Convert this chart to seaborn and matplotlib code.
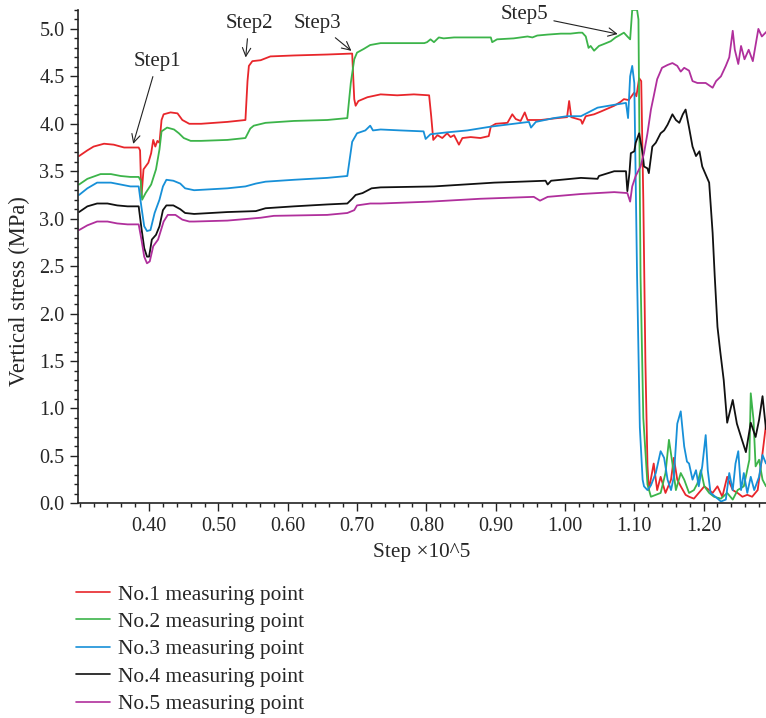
import seaborn as sns
import pandas as pd
import matplotlib.pyplot as plt
from matplotlib.ticker import MultipleLocator, FormatStrFormatter

# valores (x em Step x10^5, y em MPa)
x_p1 = [0.299, 0.311, 0.320, 0.335, 0.349, 0.364, 0.385, 0.387, 0.389, 0.392, 0.399, 0.403, 0.406, 0.409,
        0.412, 0.415, 0.418, 0.421, 0.431, 0.441, 0.448, 0.458, 0.475, 0.513, 0.539, 0.542, 0.544, 0.549,
        0.561, 0.575, 0.609, 0.657, 0.693, 0.696, 0.698, 0.702, 0.715, 0.734, 0.758, 0.782, 0.804, 0.807,
        0.810, 0.816, 0.823, 0.830, 0.835, 0.840, 0.847, 0.852, 0.864, 0.878, 0.890, 0.893, 0.900, 0.917,
        0.924, 0.929, 0.936, 0.942, 0.946, 0.953, 0.965, 0.989, 1.003, 1.006, 1.009, 1.023, 1.025, 1.030,
        1.042, 1.052, 1.071, 1.080, 1.085, 1.092, 1.100, 1.103, 1.107, 1.110, 1.113, 1.116, 1.119, 1.121,
        1.128, 1.133, 1.138, 1.145, 1.153, 1.157, 1.162, 1.167, 1.174, 1.179, 1.186, 1.193, 1.201, 1.208,
        1.213, 1.220, 1.227, 1.234, 1.242, 1.249, 1.256, 1.263, 1.270, 1.278, 1.285, 1.290]
y_p1 = [3.66, 3.72, 3.76, 3.79, 3.78, 3.75, 3.75, 3.72, 3.23, 3.52, 3.59, 3.69, 3.83, 3.76,
        3.82, 3.80, 4.04, 4.10, 4.12, 4.11, 4.04, 4.00, 4.00, 4.02, 4.04, 4.45, 4.61, 4.66,
        4.67, 4.71, 4.72, 4.73, 4.74, 4.26, 4.19, 4.24, 4.28, 4.31, 4.30, 4.31, 4.30, 4.08,
        3.83, 3.88, 3.85, 3.90, 3.86, 3.88, 3.78, 3.85, 3.86, 3.85, 3.87, 3.97, 4.00, 4.01,
        4.10, 4.05, 4.03, 4.12, 4.04, 4.04, 4.04, 4.06, 4.07, 4.24, 4.07, 4.04, 4.00, 4.08,
        4.10, 4.13, 4.19, 4.23, 4.26, 4.25, 4.33, 4.29, 4.48, 4.45, 3.20, 1.50, 0.40, 0.14,
        0.42, 0.14, 0.28, 0.11, 0.25, 0.48, 0.25, 0.18, 0.09, 0.07, 0.05, 0.11, 0.18, 0.14,
        0.11, 0.18, 0.07, 0.28, 0.14, 0.11, 0.07, 0.09, 0.07, 0.14, 0.53, 0.83]

x_p2 = [0.299, 0.311, 0.330, 0.345, 0.359, 0.373, 0.385, 0.388, 0.390, 0.395, 0.403, 0.410, 0.415, 0.418,
        0.426, 0.436, 0.443, 0.450, 0.460, 0.475, 0.513, 0.539, 0.546, 0.551, 0.568, 0.609, 0.657, 0.686,
        0.691, 0.696, 0.700, 0.710, 0.719, 0.734, 0.763, 0.797, 0.801, 0.806, 0.811, 0.818, 0.825, 0.840,
        0.869, 0.893, 0.895, 0.902, 0.926, 0.946, 0.953, 0.960, 0.975, 0.994, 1.008, 1.020, 1.025, 1.030,
        1.034, 1.037, 1.042, 1.049, 1.056, 1.066, 1.073, 1.078, 1.085, 1.090, 1.094, 1.097, 1.104, 1.106,
        1.109, 1.113, 1.119, 1.124, 1.131, 1.138, 1.145, 1.150, 1.155, 1.160, 1.167, 1.172, 1.179, 1.186,
        1.191, 1.196, 1.201, 1.208, 1.215, 1.225, 1.234, 1.242, 1.249, 1.258, 1.266, 1.268, 1.272, 1.275,
        1.280, 1.285, 1.290]
y_p2 = [3.36, 3.42, 3.47, 3.47, 3.45, 3.44, 3.44, 3.40, 3.20, 3.27, 3.36, 3.52, 3.73, 3.92,
        3.96, 3.94, 3.90, 3.85, 3.82, 3.82, 3.83, 3.85, 3.95, 3.98, 4.01, 4.03, 4.04, 4.06,
        4.43, 4.68, 4.75, 4.79, 4.83, 4.85, 4.85, 4.85, 4.86, 4.89, 4.86, 4.91, 4.90, 4.91,
        4.91, 4.91, 4.86, 4.89, 4.90, 4.92, 4.91, 4.93, 4.94, 4.95, 4.95, 4.96, 4.96, 4.92,
        4.80, 4.82, 4.77, 4.82, 4.84, 4.87, 4.91, 4.93, 4.96, 4.92, 4.89, 5.20, 5.20, 5.10,
        2.40, 0.90, 0.20, 0.07, 0.09, 0.11, 0.32, 0.67, 0.42, 0.14, 0.32, 0.25, 0.11, 0.14,
        0.21, 0.35, 0.18, 0.11, 0.07, 0.05, 0.11, 0.04, 0.14, 0.18, 0.46, 1.16, 0.88, 0.39,
        0.46, 0.25, 0.18]

x_p3 = [0.299, 0.311, 0.325, 0.345, 0.359, 0.373, 0.385, 0.389, 0.393, 0.397, 0.402, 0.408, 0.415, 0.420,
        0.425, 0.435, 0.445, 0.452, 0.465, 0.513, 0.539, 0.554, 0.568, 0.609, 0.657, 0.686, 0.693, 0.700,
        0.712, 0.719, 0.723, 0.734, 0.763, 0.796, 0.799, 0.806, 0.830, 0.859, 0.893, 0.926, 0.948, 0.951,
        0.958, 0.984, 1.003, 1.023, 1.047, 1.071, 1.088, 1.091, 1.094, 1.097, 1.100, 1.104, 1.108, 1.112,
        1.114, 1.119, 1.124, 1.131, 1.138, 1.143, 1.148, 1.153, 1.157, 1.162, 1.167, 1.172, 1.176, 1.179,
        1.184, 1.189, 1.193, 1.198, 1.203, 1.206, 1.210, 1.217, 1.225, 1.232, 1.237, 1.242, 1.246, 1.250,
        1.254, 1.258, 1.263, 1.268, 1.273, 1.280, 1.285, 1.290]
y_p3 = [3.25, 3.32, 3.38, 3.38, 3.36, 3.34, 3.34, 3.12, 2.92, 2.87, 2.88, 3.06, 3.20, 3.34,
        3.41, 3.40, 3.37, 3.32, 3.30, 3.32, 3.34, 3.37, 3.39, 3.41, 3.43, 3.45, 3.81, 3.90,
        3.93, 3.98, 3.93, 3.94, 3.93, 3.92, 3.84, 3.89, 3.91, 3.93, 3.97, 4.00, 4.02, 3.96,
        4.02, 4.06, 4.08, 4.08, 4.17, 4.20, 4.22, 4.06, 4.50, 4.61, 4.43, 2.40, 0.80, 0.25,
        0.18, 0.14, 0.19, 0.32, 0.55, 0.48, 0.25, 0.14, 0.28, 0.84, 0.97, 0.60, 0.44, 0.42,
        0.25, 0.35, 0.18, 0.39, 0.72, 0.35, 0.11, 0.07, 0.02, 0.04, 0.32, 0.14, 0.42, 0.55,
        0.14, 0.32, 0.11, 0.28, 0.14, 0.28, 0.51, 0.42]

x_p4 = [0.299, 0.311, 0.325, 0.340, 0.354, 0.369, 0.385, 0.389, 0.393, 0.397, 0.400, 0.404, 0.410, 0.415,
        0.420, 0.425, 0.435, 0.445, 0.452, 0.465, 0.513, 0.554, 0.568, 0.609, 0.657, 0.686, 0.693, 0.698,
        0.708, 0.721, 0.734, 0.811, 0.898, 0.936, 0.972, 0.975, 0.980, 1.023, 1.047, 1.049, 1.071, 1.088,
        1.090, 1.093, 1.095, 1.100, 1.102, 1.107, 1.112, 1.114, 1.119, 1.121, 1.126, 1.131, 1.138, 1.143,
        1.148, 1.155, 1.160, 1.165, 1.170, 1.174, 1.179, 1.184, 1.189, 1.194, 1.198, 1.208, 1.213, 1.216,
        1.220, 1.224, 1.229, 1.234, 1.242, 1.248, 1.254, 1.261, 1.268, 1.275, 1.280, 1.285, 1.290]
y_p4 = [3.07, 3.13, 3.16, 3.16, 3.14, 3.13, 3.13, 2.90, 2.69, 2.60, 2.60, 2.78, 2.83, 2.92,
        3.09, 3.14, 3.14, 3.10, 3.06, 3.05, 3.07, 3.08, 3.11, 3.13, 3.15, 3.16, 3.21, 3.25,
        3.27, 3.32, 3.33, 3.34, 3.38, 3.39, 3.40, 3.36, 3.40, 3.43, 3.42, 3.45, 3.50, 3.50,
        3.29, 3.48, 3.69, 3.71, 3.80, 3.90, 3.69, 3.55, 3.53, 3.48, 3.76, 3.80, 3.90, 3.93,
        3.99, 4.10, 4.04, 4.01, 4.10, 4.15, 3.96, 3.76, 3.66, 3.71, 3.55, 3.38, 2.85, 2.40,
        1.86, 1.60, 1.30, 0.85, 1.09, 0.84, 0.70, 0.54, 0.85, 0.70, 0.88, 1.13, 0.78]

x_p5 = [0.299, 0.311, 0.325, 0.340, 0.354, 0.369, 0.385, 0.389, 0.393, 0.397, 0.401, 0.406, 0.413, 0.421,
        0.427, 0.438, 0.448, 0.458, 0.465, 0.513, 0.561, 0.580, 0.657, 0.686, 0.696, 0.700, 0.719, 0.734,
        0.806, 0.878, 0.955, 0.964, 0.975, 1.023, 1.071, 1.090, 1.094, 1.097, 1.102, 1.109, 1.114, 1.119,
        1.124, 1.128, 1.133, 1.140, 1.148, 1.155, 1.162, 1.167, 1.172, 1.179, 1.184, 1.191, 1.203, 1.213,
        1.218, 1.225, 1.232, 1.237, 1.242, 1.245, 1.250, 1.254, 1.259, 1.265, 1.271, 1.279, 1.284, 1.292]
y_p5 = [2.88, 2.93, 2.97, 2.97, 2.95, 2.94, 2.94, 2.78, 2.60, 2.53, 2.55, 2.71, 2.78, 2.97,
        3.04, 3.04, 2.99, 2.97, 2.97, 2.98, 3.01, 3.03, 3.04, 3.06, 3.09, 3.14, 3.16, 3.16,
        3.18, 3.21, 3.23, 3.19, 3.23, 3.26, 3.28, 3.27, 3.18, 3.34, 3.45, 3.55, 3.69, 3.90,
        4.15, 4.29, 4.47, 4.59, 4.62, 4.64, 4.61, 4.55, 4.59, 4.56, 4.45, 4.43, 4.43, 4.38,
        4.45, 4.50, 4.61, 4.70, 4.98, 4.78, 4.63, 4.82, 4.68, 4.78, 4.66, 5.00, 4.92, 4.98]

rotulos = ["No.1 measuring point", "No.2 measuring point", "No.3 measuring point",
           "No.4 measuring point", "No.5 measuring point"]
cores = ["#e8262b", "#3cb44a", "#1790d8", "#111111", "#b02f9c"]

series = [(x_p1, y_p1), (x_p2, y_p2), (x_p3, y_p3), (x_p4, y_p4), (x_p5, y_p5)]
partes = []
for rot, (xs, ys) in zip(rotulos, series):
    partes.append(pd.DataFrame({"step": xs, "stress": ys, "ponto": rot}))
dados = pd.concat(partes, ignore_index=True)

sns.set_style("ticks")
plt.rcParams['font.family'] = ['Liberation Serif', 'DejaVu Serif']

fig = plt.figure(figsize=(7.66, 7.18), dpi=100)
ax = fig.add_axes([0.1014, 0.2989, 0.8986, 0.6873])

sns.lineplot(data=dados, x="step", y="stress", hue="ponto", palette=dict(zip(rotulos, cores)),
             estimator=None, sort=False, linewidth=1.3, legend=False, ax=ax)

ax.set_xlim(0.297, 1.29)
ax.set_ylim(0, 5.2)
ax.xaxis.set_major_locator(MultipleLocator(0.1))
ax.xaxis.set_minor_locator(MultipleLocator(0.02))
ax.yaxis.set_major_locator(MultipleLocator(0.5))
ax.yaxis.set_minor_locator(MultipleLocator(0.1))
ax.xaxis.set_major_formatter(FormatStrFormatter("%.2f"))
ax.yaxis.set_major_formatter(FormatStrFormatter("%.1f"))
ax.set_xticks([0.4, 0.5, 0.6, 0.7, 0.8, 0.9, 1.0, 1.1, 1.2])
ax.tick_params(which="major", direction="out", length=6, width=1, labelsize=14.5, color="#222222")
ax.tick_params(which="minor", direction="out", length=3, width=1, color="#222222")
for lado in ["top", "right"]:
    ax.spines[lado].set_visible(False)
for lado in ["left", "bottom"]:
    ax.spines[lado].set_linewidth(1.2)
    ax.spines[lado].set_color("#222222")

ax.set_xlabel("Step ×10^5", fontsize=15.3, labelpad=5)
ax.set_ylabel("Vertical stress (MPa)", fontsize=16.3)
ax.yaxis.set_label_coords(-0.069, 0.43)

seta = dict(arrowstyle="->", color="#222222", lw=0.8)
ax.annotate("Step1", xy=(0.376, 3.76), xytext=(0.412, 4.66), fontsize=15, ha="center", va="center",
            arrowprops=seta)
ax.annotate("Step2", xy=(0.539, 4.67), xytext=(0.544, 5.06), fontsize=15, ha="center", va="center",
            arrowprops=seta)
ax.annotate("Step3", xy=(0.695, 4.75), xytext=(0.643, 5.06), fontsize=15, ha="center", va="center",
            arrowprops=seta)
ax.annotate("Step5", xy=(1.080, 4.94), xytext=(0.941, 5.15), fontsize=15, ha="center", va="center",
            arrowprops=seta)

handles = [plt.Line2D([], [], color=c, lw=1.2) for c in cores]
fig.legend(handles, rotulos, loc="center left", bbox_to_anchor=(0.099, 0.0955), frameon=False,
           fontsize=15.4, handlelength=1.6, handletextpad=0.37, labelspacing=0.35,
           borderpad=0, borderaxespad=0)

plt.savefig("out.png", dpi=100)
